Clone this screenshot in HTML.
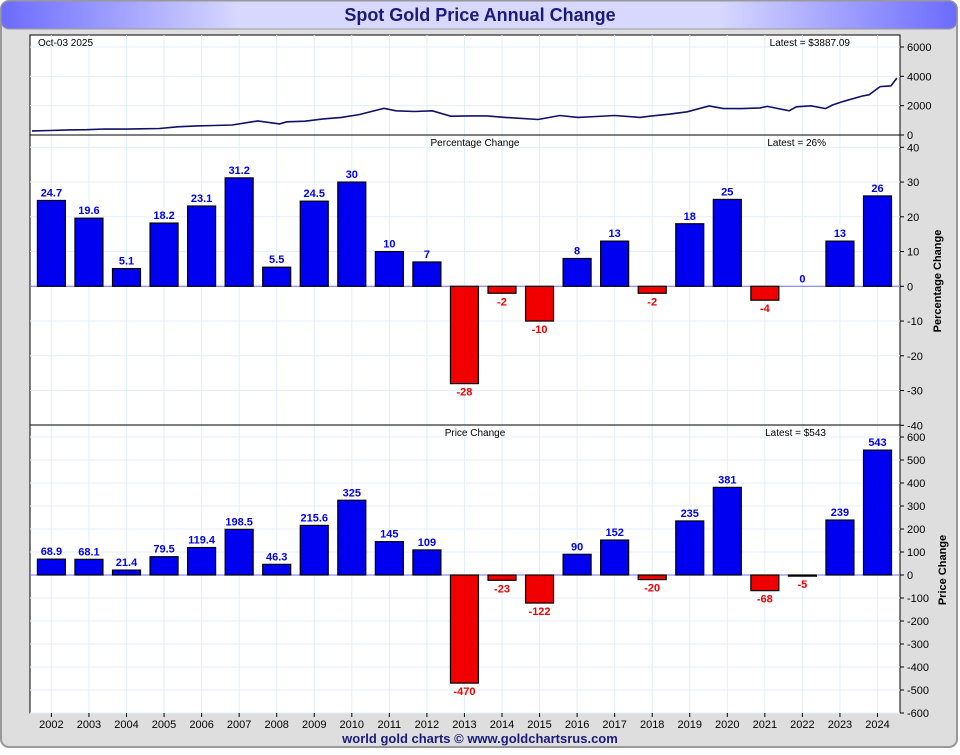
<!DOCTYPE html>
<html><head><meta charset="utf-8"><style>
body{margin:0;background:#fff;width:960px;height:750px;overflow:hidden;font-family:"Liberation Sans",sans-serif}
</style></head><body>
<svg id="chart" width="960" height="750" xmlns="http://www.w3.org/2000/svg">
<defs>
<linearGradient id="tg" x1="0" x2="1" y1="0" y2="0">
<stop offset="0" stop-color="#6b6bff"/><stop offset="0.25" stop-color="#d8d8ff"/><stop offset="0.75" stop-color="#d8d8ff"/><stop offset="1" stop-color="#6b6bff"/></linearGradient>
</defs>
<rect x="1" y="1" width="956" height="746" rx="8" fill="#dedede" stroke="#999" stroke-width="2"/>
<rect x="1" y="1" width="956" height="28" rx="8" fill="url(#tg)" stroke="#999"/>
<text x="480" y="21" text-anchor="middle" font-size="18" font-weight="bold" fill="#1a1a7a">Spot Gold Price Annual Change</text>
<rect x="30" y="35" width="870" height="678" fill="#fff" stroke="#000"/>
<g id="grid"></g><g id="marks"></g><g id="axes"></g>
<text x="480" y="743" text-anchor="middle" font-size="13" font-weight="bold" fill="#1a1a7a">world gold charts © www.goldchartsrus.com</text>
</svg>
<script>
const years=[2002,2003,2004,2005,2006,2007,2008,2009,2010,2011,2012,2013,2014,2015,2016,2017,2018,2019,2020,2021,2022,2023,2024];
const pctChange=[24.7,19.6,5.1,18.2,23.1,31.2,5.5,24.5,30,10,7,-28,-2,-10,8,13,-2,18,25,-4,0,13,26];
const pctLabels=["24.7","19.6","5.1","18.2","23.1","31.2","5.5","24.5","30","10","7","-28","-2","-10","8","13","-2","18","25","-4","0","13","26"];
const priceChange=[68.9,68.1,21.4,79.5,119.4,198.5,46.3,215.6,325,145,109,-470,-23,-122,90,152,-20,235,381,-68,-5,239,543];
const priceLabels=["68.9","68.1","21.4","79.5","119.4","198.5","46.3","215.6","325","145","109","-470","-23","-122","90","152","-20","235","381","-68","-5","239","543"];
const spotTimes=[2002,2002.5,2003,2003.5,2004,2004.5,2005,2005.5,2006,2006.5,2007,2007.5,2008,2008.2,2008.8,2009,2009.5,2010,2010.5,2011,2011.67,2012,2012.5,2013,2013.5,2014,2014.5,2015,2015.9,2016.5,2017,2017.5,2018,2018.7,2019,2019.5,2020,2020.6,2021,2021.5,2022,2022.2,2022.8,2023,2023.4,2023.8,2024,2024.3,2024.8,2025,2025.3,2025.6,2025.76];
const spotPrices=[280,310,345,360,410,400,425,440,560,620,650,680,880,960,760,900,940,1100,1200,1400,1820,1650,1600,1650,1280,1300,1300,1200,1060,1330,1200,1260,1330,1200,1290,1420,1580,1980,1800,1800,1850,1950,1650,1920,1990,1800,2050,2300,2650,2750,3300,3350,3887];
const pctTicks=[40,30,20,10,0,-10,-20,-30,-40];
const priceTicks=[600,500,400,300,200,100,0,-100,-200,-300,-400,-500,-600];
const spotTicks=[6000,4000,2000,0];

const NS="http://www.w3.org/2000/svg";
const G=document.getElementById('grid'),M=document.getElementById('marks'),A=document.getElementById('axes');
function mk(p,tag,at,txt){const e=document.createElementNS(NS,tag);for(const k in at)e.setAttribute(k,at[k]);if(txt!==undefined)e.textContent=txt;p.appendChild(e);return e;}
const xc=i=>51.4+i*37.55;
const ySpot=v=>135-v*(88/6000);
const xSpot=t=>32+(t-2002)*36.4;
const yPct=v=>286.3-v*3.475;
const yPrice=v=>575-v*0.23;

years.forEach((y,i)=>{
 const l=mk(G,'line',{x1:xc(i),x2:xc(i),y1:35,y2:713,stroke:'#e3eff8'});
 
 
});
spotTicks.forEach(v=>{const l=mk(G,'line',{x1:30,x2:900,y1:ySpot(v),y2:ySpot(v),stroke:'#e3eff8'});
 });
pctTicks.forEach(v=>{const l=mk(G,'line',{x1:30,x2:900,y1:yPct(v),y2:yPct(v),stroke:'#e3eff8'});
 });
priceTicks.forEach(v=>{const l=mk(G,'line',{x1:30,x2:900,y1:yPrice(v),y2:yPrice(v),stroke:'#e3eff8'});
 });

[135,425].forEach(y=>{const l=mk(A,'line',{x1:30,x2:900,y1:y,y2:y,stroke:'#000'});
 });

[yPct(0),yPrice(0)].forEach(y=>{const l=mk(M,'line',{x1:30,x2:900,y1:y,y2:y,stroke:'#7070ff'});
 });

const pts=spotTimes.map((t,i)=>xSpot(t).toFixed(1)+','+ySpot(spotPrices[i]).toFixed(1)).join(' ');
const pl=mk(M,'polyline',{points:pts,fill:'none',stroke:'#10106a','stroke-width':1.6});


function bars(vals,labs,yf,nm){
 vals.forEach((v,i)=>{
  const y0=yf(0),y1=yf(v);
  if(v!==0){
   const r=mk(M,'rect',{x:xc(i)-14,y:Math.min(y0,y1),width:28,height:Math.max(Math.abs(y1-y0),1),fill:v>=0?'#0000f0':'#f00000',stroke:'#000','stroke-width':1.2});
   
   
  }
  const ty=v>=0?y1-4:y1+12;
  const t=mk(M,'text',{x:xc(i),y:ty,'text-anchor':'middle','font-size':11,'font-weight':'bold',fill:v>=0?'#0000f0':'#f00000'},labs[i]);
  
  
 });
}
bars(pctChange,pctLabels,yPct,'pct');
bars(priceChange,priceLabels,yPrice,'price');

function ticks(arr,yf,nm){arr.forEach(v=>{
 const l=mk(A,'line',{x1:900,x2:904,y1:yf(v),y2:yf(v),stroke:'#000'});
 
 const t=mk(A,'text',{x:907,y:yf(v)+4,'font-size':11,fill:'#000'},String(v));
 
});}
ticks(spotTicks,ySpot,'spot');ticks(pctTicks,yPct,'pct');ticks(priceTicks,yPrice,'price');

years.forEach((y,i)=>{
 const l=mk(A,'line',{x1:xc(i),x2:xc(i),y1:713,y2:717,stroke:'#000'});
 
 const t=mk(A,'text',{x:xc(i),y:728,'text-anchor':'middle','font-size':11,fill:'#000'},String(y));
 
});

const labels=[[38,46,'start','Oct-03  2025','date-label'],[850,46,'end','Latest = $3887.09','spot-latest'],
[475,146,'middle','Percentage Change','pct-panel-title'],[826,146,'end','Latest = 26%','pct-latest'],
[475,436,'middle','Price Change','price-panel-title'],[826,436,'end','Latest = $543','price-latest']];
labels.forEach(a=>{const t=mk(A,'text',{x:a[0],y:a[1],'text-anchor':a[2],'font-size':10,fill:'#000'},a[3]);
 });
const at1=mk(A,'text',{x:941,y:281,'text-anchor':'middle','font-size':11,'font-weight':'bold',fill:'#000',transform:'rotate(-90 941 281)'},'Percentage Change');

const at2=mk(A,'text',{x:946,y:570,'text-anchor':'middle','font-size':11,'font-weight':'bold',fill:'#000',transform:'rotate(-90 946 570)'},'Price Change');

</script>
</body></html>
